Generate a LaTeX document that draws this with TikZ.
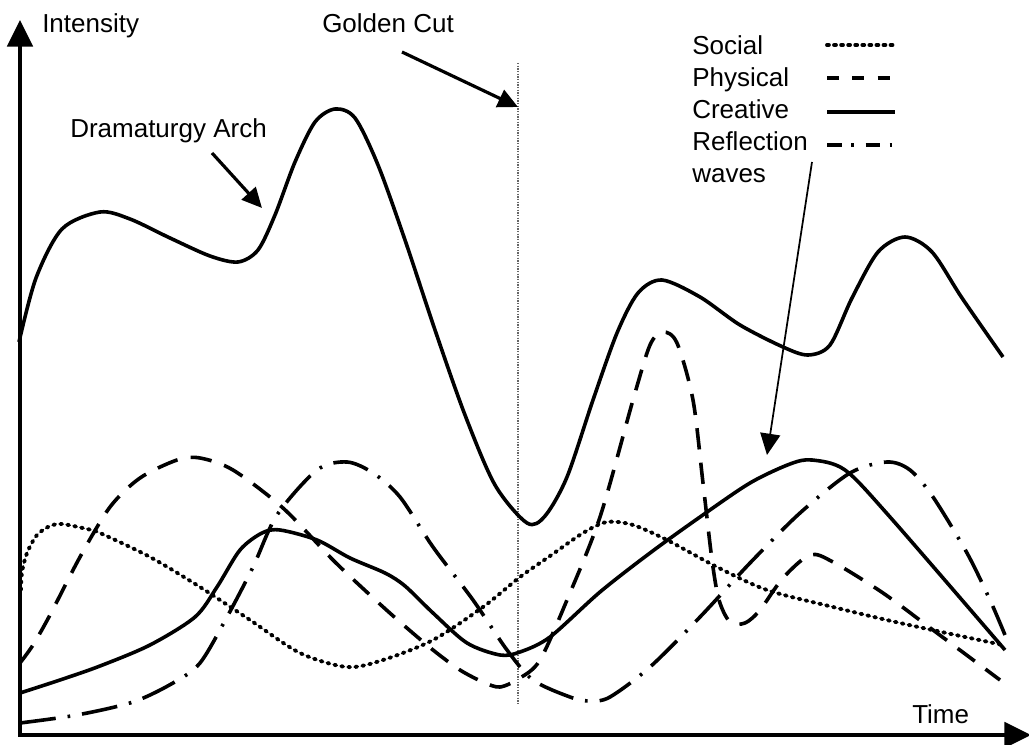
\documentclass[tikz,border=0pt]{standalone}
\usepackage{fontspec}
\setmainfont{Liberation Sans}
\usetikzlibrary{arrows.meta}
\begin{document}
\begin{tikzpicture}[x=0.75pt,y=-0.75pt,
  curve/.style={line width=2.7pt, line join=round},
  social/.style={curve, line width=2.9pt, line cap=round, dash pattern=on 1.4pt off 3.9pt},
  physical/.style={curve, dash pattern=on 16pt off 10pt},
  creative/.style={curve},
  reflection/.style={curve, dash pattern=on 27pt off 9pt on 2pt off 9pt},
  keysocial/.style={social},
  keyphysical/.style={curve, dash pattern=on 9pt off 10pt},
  keyreflection/.style={curve, dash pattern=on 11pt off 7pt on 2pt off 9pt},
  axis/.style={line width=3pt,
    {Triangle[length=20pt,width=19pt]}-{Triangle[length=20pt,width=19pt]}},
  label/.style={inner sep=0pt, anchor=base west, font=\fontsize{19.5}{23}\selectfont},
  pointer/.style={line width=2.4pt, -{Triangle[length=15pt,width=14pt]}},
  thinpointer/.style={line width=1.3pt, -{Triangle[length=16pt,width=15pt]}},
  cutline/.style={line width=1pt, gray!80!black, dash pattern=on 1pt off 1pt},
]
\useasboundingbox (0,0) rectangle (1029,745);

% axes
\coordinate (O) at (20,735);
\coordinate (ytip) at (20,20);
\coordinate (xtip) at (1031,735);
\draw[axis] (ytip) -- (O) -- (xtip);
\node[label] (intensity) at (42,33) {Intensity};
\node[label] (time) at (912,723) {Time};

% golden cut
\coordinate (cutTop) at (518,63);
\coordinate (cutBot) at (518,705);
\draw[cutline] (cutTop) -- (cutBot);
\node[label] (golden) at (322,33) {Golden Cut};
\coordinate (goldenFrom) at (402,52);
\coordinate (goldenTo) at (518,107);
\draw[pointer] (goldenFrom) -- (goldenTo);

% dramaturgy arch
\draw[creative] plot[smooth] coordinates {
  (19,342) (36,278) (62,229) (100,212) (130,219) (170,238) (210,256)
  (238,262) (258,250) (275,215) (295,162) (315,122) (335,109) (355,118)
  (378,165) (405,240) (435,330) (465,415) (495,485) (527,523) (545,516)
  (567,477) (593,400) (617,333) (638,293) (662,280) (700,297) (740,325)
  (783,347) (808,355) (830,345) (852,298) (878,252) (905,237) (932,252)
  (962,298) (1003,357)};
\node[label] (arch) at (70,138) {Dramaturgy Arch};
\coordinate (archFrom) at (212,153);
\coordinate (archTo) at (262,208);
\draw[pointer] (archFrom) -- (archTo);

% creative wave
\draw[creative] plot[smooth] coordinates {
  (20,693) (60,680) (100,666) (150,645) (195,617) (217,587) (240,550)
  (262,533) (280,530) (317,540) (350,558) (385,573) (405,586) (433,613)
  (467,643) (500,655) (520,652) (550,637) (600,592) (650,553) (700,517)
  (750,483) (790,464) (812,460) (845,470) (890,517) (1005,650)};

% physical wave
\draw[physical] plot[smooth] coordinates {
  (20,663) (33,645) (50,615) (80,557) (110,507) (140,478) (177,460) (200,458)
  (233,470) (283,508) (333,560) (370,595) (400,622) (433,650) (460,670)
  (483,682) (500,687) (520,678) (540,660) (567,600) (600,517) (633,400)
  (650,345) (663,332) (677,343) (693,400) (703,483) (712,560) (719,600)
  (730,622) (745,623) (760,610) (783,578) (810,555) (833,562) (883,593)
  (933,630) (1000,680)};

% reflection waves
\draw[reflection] plot[smooth] coordinates {
  (20,723) (77,715) (133,702) (173,683) (200,663) (227,617) (253,567)
  (277,515) (317,470) (347,462) (373,473) (400,497) (433,547) (473,600)
  (507,650) (533,680) (570,697) (590,701) (610,697) (650,667) (700,617)
  (750,563) (800,513) (850,473) (887,462) (910,470) (933,497) (967,553)
  (990,600) (1005,635)};

% social wave
\draw[social] plot[smooth] coordinates {
  (21,590) (22,572) (27,553) (37,535) (50,526) (62,524) (87,529) (100,533)
  (150,557) (200,587) (250,620) (300,653) (347,667) (383,660) (433,640)
  (483,607) (520,577) (550,556) (583,533) (607,522) (633,525) (667,540)
  (717,567) (767,590) (833,607) (900,623) (1003,645)};

% legend
\node[label] (kSocial) at (692,55) {Social};
\node[label] (kPhysical) at (692,87) {Physical};
\node[label] (kCreative) at (692,119) {Creative};
\node[label] (kReflection) at (692,151) {Reflection};
\node[label] (kWaves) at (692,183) {waves};
\draw[keysocial] (827,45) -- (895,45);
\draw[keyphysical] (827,78) -- (895,78);
\draw[creative] (827,112) -- (895,112);
\draw[keyreflection] (827,145) -- (895,145);
\coordinate (waveFrom) at (812,162);
\coordinate (waveTo) at (767,455);
\draw[thinpointer] (waveFrom) -- (waveTo);
\end{tikzpicture}
\end{document}
